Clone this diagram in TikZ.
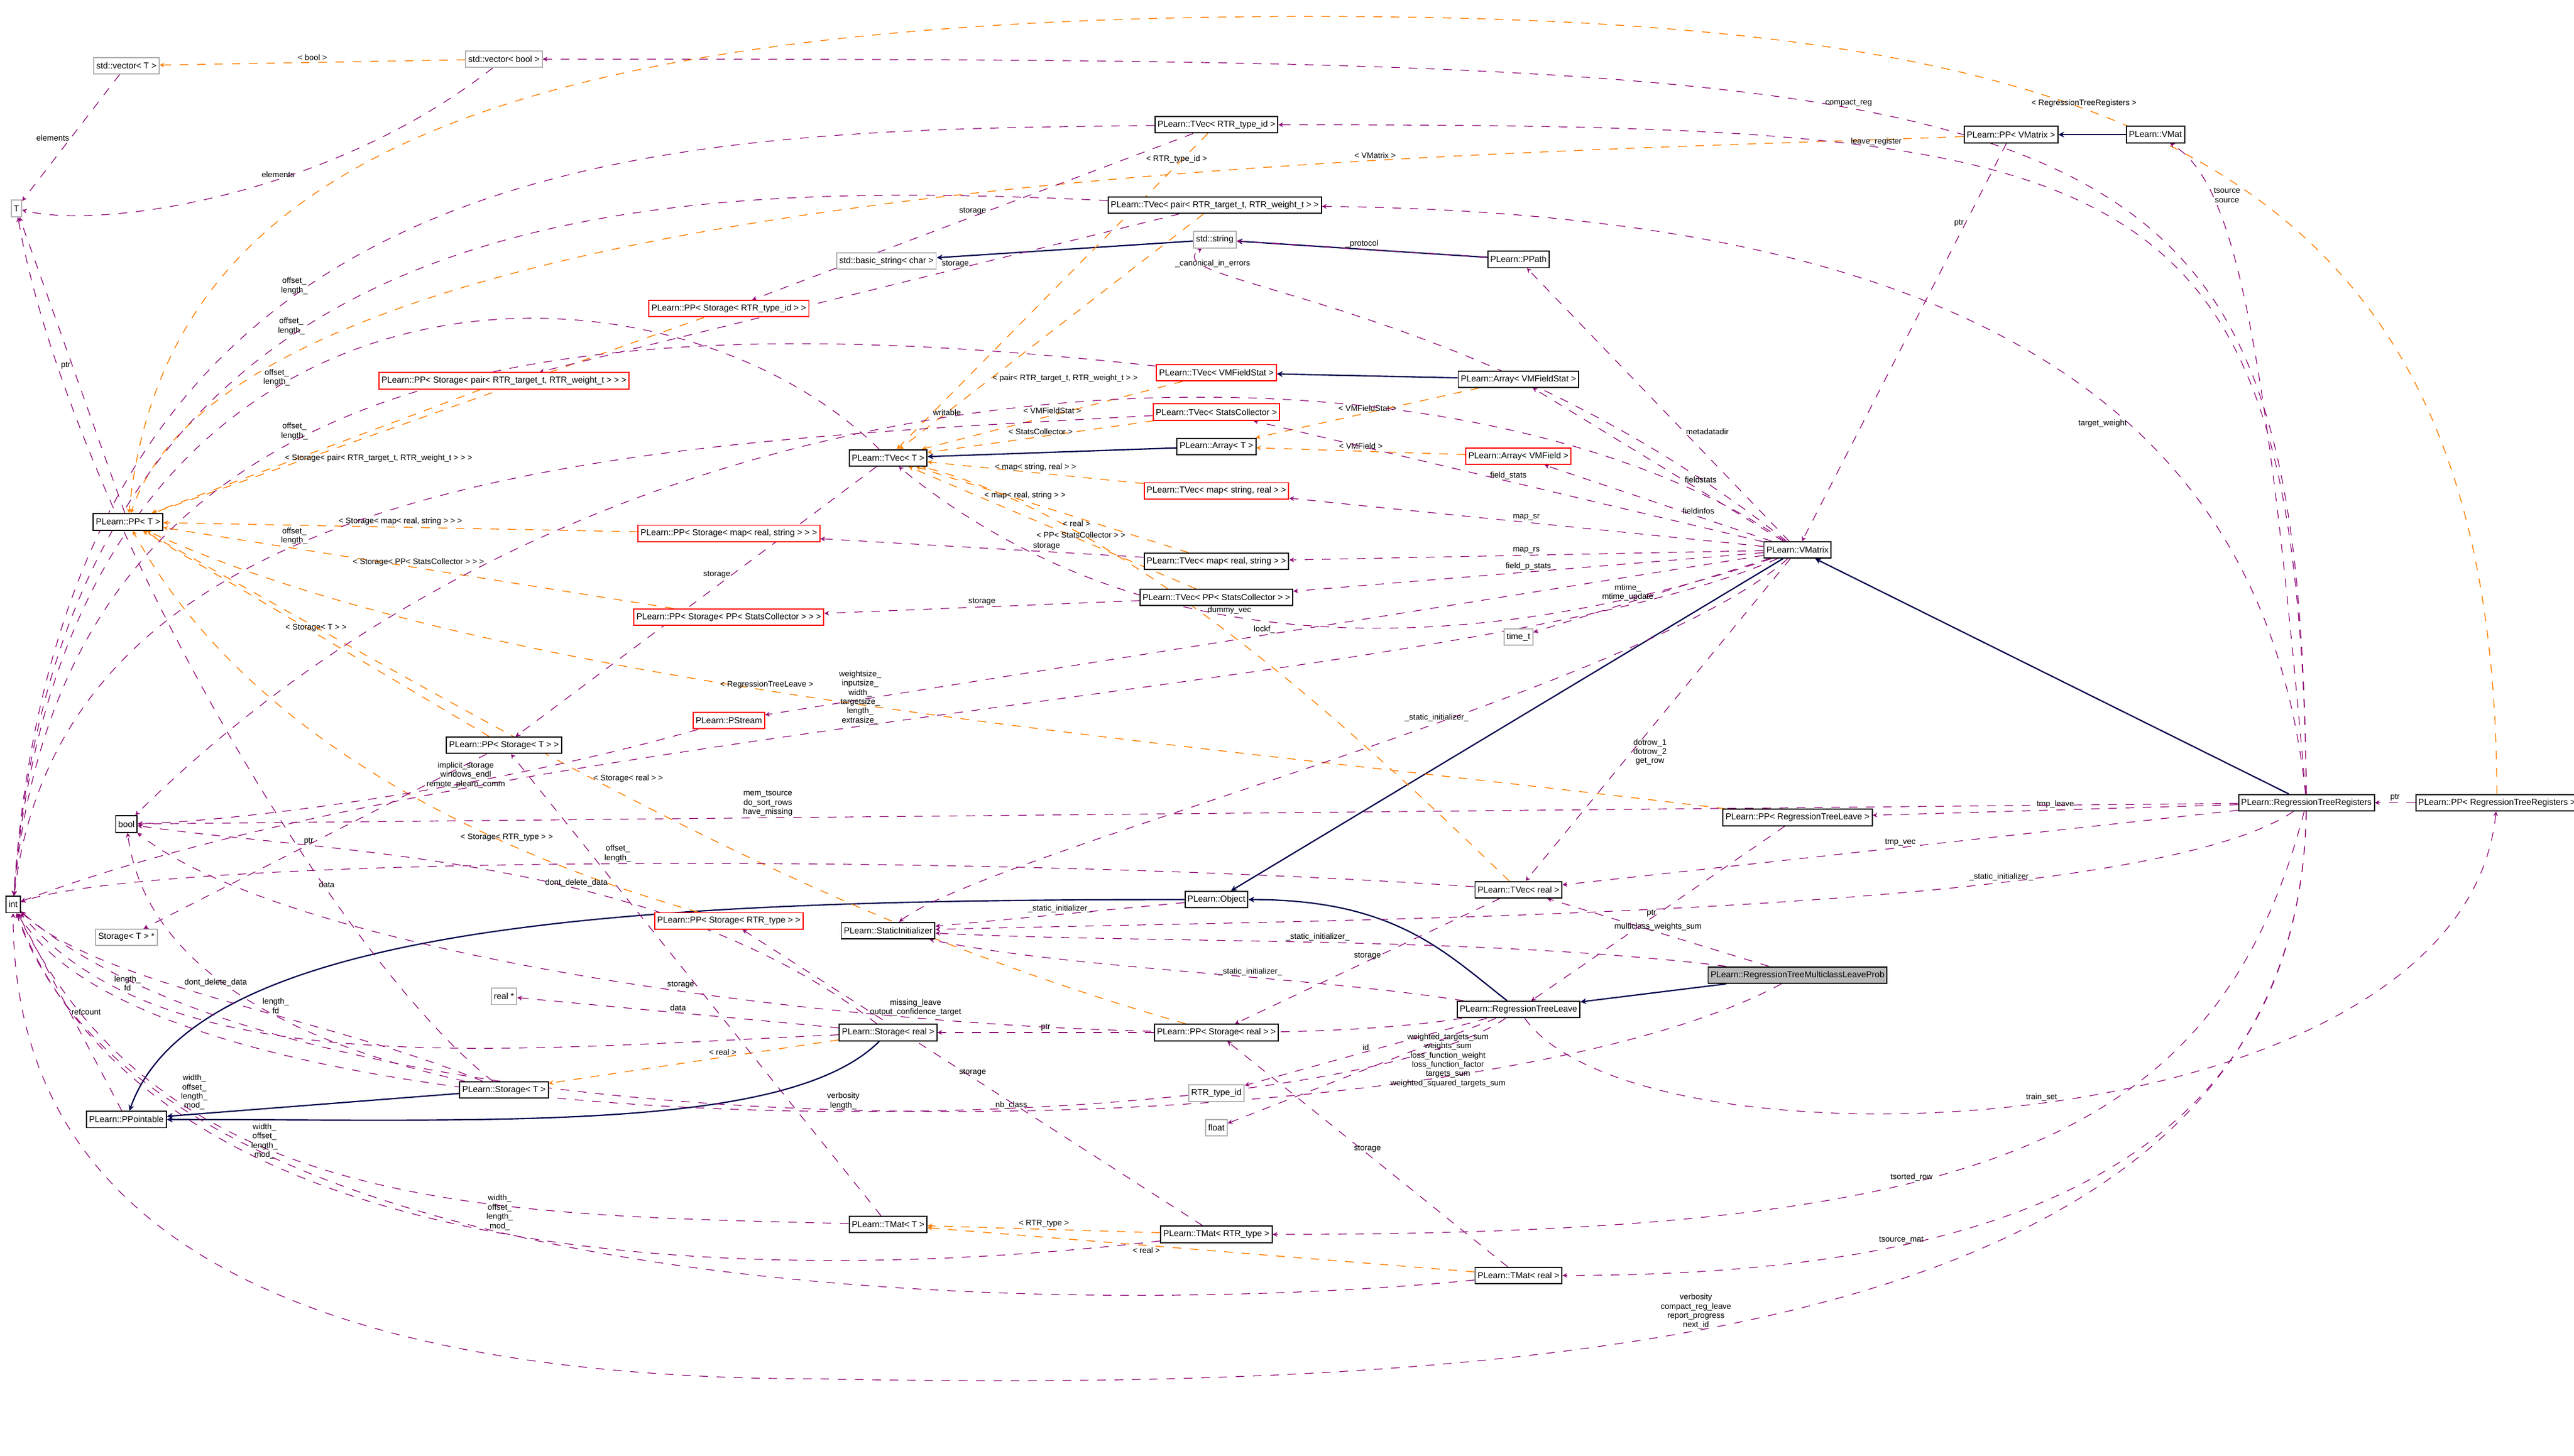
\documentclass[tikz,border=0pt]{standalone}
\usepackage{fontspec}
\setmainfont{Liberation Sans}
\usetikzlibrary{arrows.meta}
\pgfdeclarelayer{edges}
\pgfsetlayers{edges,main}
\tikzset{
 cls/.style={draw=black,fill=white,font=\fontsize{3}{3.6}\selectfont,inner sep=0.9pt,minimum height=0.2cm},
 redcls/.style={cls,draw=red},
 graycls/.style={cls,draw=gray!60},
 maincls/.style={cls,fill=gray!55},
 use/.style={draw=violet!80!purple,dashed,-{Stealth[length=1.6pt,width=1.6pt]},line width=0.25pt},
 tmpl/.style={draw=orange,dashed,-{Stealth[length=1.6pt,width=1.6pt]},line width=0.3pt},
 inh/.style={draw=blue!30!black,-{Stealth[length=2pt,width=2pt]},line width=0.45pt},
 lbl/.style={font=\fontsize{2.8}{3.2}\selectfont,align=center,inner sep=0.5pt}
}
\begin{document}
\begin{tikzpicture}[x=0.02cm,y=-0.02cm]
 \useasboundingbox (0,0) rectangle (1568,887);
 % classes
 \node[graycls] (T) at (10,127) {T};
 \node[graycls] (vecT) at (77,40) {std::vector< T >};
 \node[graycls] (vecbool) at (307,36) {std::vector< bool >};
 \node[cls] (tvecid) at (741,76) {PLearn::TVec< RTR\_type\_id >};
 \node[cls] (ppvm) at (1225,82) {PLearn::PP< VMatrix >};
 \node[cls] (vmat) at (1313,82) {PLearn::VMat};
 \node[cls] (tvecpair) at (740,125) {PLearn::TVec< pair< RTR\_target\_t, RTR\_weight\_t > >};
 \node[graycls] (bstr) at (540,159) {std::basic\_string< char >};
 \node[graycls] (str) at (740,146) {std::string};
 \node[cls] (ppath) at (925,158) {PLearn::PPath};
 \node[redcls] (ppsid) at (444,188) {PLearn::PP< Storage< RTR\_type\_id > >};
 \node[redcls] (ppspair) at (307,232) {PLearn::PP< Storage< pair< RTR\_target\_t, RTR\_weight\_t > > >};
 \node[redcls] (tvecfs) at (741,227) {PLearn::TVec< VMFieldStat >};
 \node[cls] (arrfs) at (925,231) {PLearn::Array< VMFieldStat >};
 \node[redcls] (tvecsc) at (741,251) {PLearn::TVec< StatsCollector >};
 \node[cls] (tvecT) at (541,279) {PLearn::TVec< T >};
 \node[cls] (arrT) at (741,272) {PLearn::Array< T >};
 \node[redcls] (arrvf) at (925,278) {PLearn::Array< VMField >};
 \node[redcls] (tvecmsr) at (741,299) {PLearn::TVec< map< string, real > >};
 \node[cls] (ppT) at (78,318) {PLearn::PP< T >};
 \node[redcls] (ppsmap) at (444,325) {PLearn::PP< Storage< map< real, string > > >};
 \node[cls] (vmatrix) at (1095,335) {PLearn::VMatrix};
 \node[cls] (tvecmrs) at (741,342) {PLearn::TVec< map< real, string > >};
 \node[cls] (tvecppsc) at (741,364) {PLearn::TVec< PP< StatsCollector > >};
 \node[redcls] (ppsppsc) at (444,376) {PLearn::PP< Storage< PP< StatsCollector > > >};
 \node[graycls] (timet) at (925,388) {time\_t};
 \node[redcls] (pstream) at (444,439) {PLearn::PStream};
 \node[cls] (ppsT) at (307,454) {PLearn::PP< Storage< T > >};
 \node[cls] (bool) at (77,502) {bool};
 \node[cls] (pprtl) at (1095,498) {PLearn::PP< RegressionTreeLeave >};
 \node[cls] (rtr) at (1405,489) {PLearn::RegressionTreeRegisters};
 \node[cls] (pprtr) at (1521,489) {PLearn::PP< RegressionTreeRegisters >};
 \node[cls] (tvecreal) at (925,542) {PLearn::TVec< real >};
 \node[cls] (int) at (8,551) {int};
 \node[cls] (object) at (741,548) {PLearn::Object};
 \node[redcls] (ppsrtr) at (444,561) {PLearn::PP< Storage< RTR\_type > >};
 \node[cls] (statinit) at (541,567) {PLearn::StaticInitializer};
 \node[graycls] (storTp) at (77,571) {Storage< T > *};
 \node[maincls] (mclp) at (1095,594) {PLearn::RegressionTreeMulticlassLeaveProb};
 \node[graycls] (realp) at (307,607) {real *};
 \node[cls] (rtl) at (925,615) {PLearn::RegressionTreeLeave};
 \node[cls] (storreal) at (541,629) {PLearn::Storage< real >};
 \node[cls] (ppsreal) at (741,629) {PLearn::PP< Storage< real > >};
 \node[cls] (storT) at (307,664) {PLearn::Storage< T >};
 \node[graycls] (rtrid) at (741,666) {RTR\_type\_id};
 \node[cls] (pptable) at (77,682) {PLearn::PPointable};
 \node[graycls] (float) at (741,687) {float};
 \node[cls] (tmatT) at (541,746) {PLearn::TMat< T >};
 \node[cls] (tmatrtr) at (741,752) {PLearn::TMat< RTR\_type >};
 \node[cls] (tmatreal) at (925,777) {PLearn::TMat< real >};
 \begin{pgfonlayer}{edges}
 % inheritance
 \draw[inh] (vmat) -- (ppvm);
 \draw[inh] (str) -- (bstr);
 \draw[inh] (ppath) -- (str);
 \draw[inh] (arrfs) -- (tvecfs);
 \draw[inh] (arrT) -- (tvecT);
 \draw[inh] (vmatrix) -- (object);
 \draw[inh] (rtr) -- (vmatrix);
 \draw[inh] (object.west) .. controls (400,548) and (120,560) .. (pptable);
 \draw[inh] (rtl) .. controls (880,580) and (850,548) .. (object);
 \draw[inh] (mclp) -- (rtl);
 \draw[inh] (storreal) .. controls (480,690) and (300,682) .. (pptable);
 \draw[inh] (storT) -- (pptable);
 % templates
 \draw[tmpl] (vecbool) -- node[lbl,above]{< bool >} (vecT);
 \draw[tmpl] (tvecid) -- node[lbl,pos=0.1,above]{< RTR\_type\_id >} (tvecT);
 \draw[tmpl] (tvecpair) -- node[lbl,pos=0.7,right]{< pair< RTR\_target\_t, RTR\_weight\_t > >} (tvecT);
 \draw[tmpl] (ppvm) .. controls (900,95) and (150,100) .. node[lbl,pos=0.3,above]{< VMatrix >} (ppT);
 \draw[tmpl] (ppsid) -- node[lbl,pos=0.35,above]{< Storage< RTR\_type\_id > >} (ppT);
 \draw[tmpl] (ppspair) -- node[lbl,pos=0.6,above right]{< Storage< pair< RTR\_target\_t, RTR\_weight\_t > > >} (ppT);
 \draw[tmpl] (tvecfs) -- node[lbl,above]{< VMFieldStat >} (tvecT);
 \draw[tmpl] (arrfs) -- node[lbl,above]{< VMFieldStat >} (arrT);
 \draw[tmpl] (tvecsc) -- node[lbl,above]{< StatsCollector >} (tvecT);
 \draw[tmpl] (arrvf) -- node[lbl,above]{< VMField >} (arrT);
 \draw[tmpl] (tvecmsr) -- node[lbl,above]{< map< string, real > >} (tvecT);
 \draw[tmpl] (ppsmap) -- node[lbl,above]{< Storage< map< real, string > > >} (ppT);
 \draw[tmpl] (tvecmrs) -- node[lbl,pos=0.6,above]{< map< real, string > >} (tvecT);
 \draw[tmpl] (tvecppsc) -- node[lbl,pos=0.4,above]{< PP< StatsCollector > >} (tvecT);
 \draw[tmpl] (ppsppsc) -- node[lbl,above]{< Storage< PP< StatsCollector > > >} (ppT);
 \draw[tmpl] (tvecreal) .. controls (860,480) and (700,320) .. node[lbl,pos=0.8,right]{< real >} (tvecT);
 \draw[tmpl] (ppsT) -- node[lbl,above]{< Storage< T > >} (ppT);
 \draw[tmpl] (pprtl) .. controls (700,450) and (300,420) .. node[lbl,pos=0.55,above]{< RegressionTreeLeave >} (ppT);
 \draw[tmpl] (pprtr) .. controls (1520,100) and (1300,10) .. node[lbl,pos=0.6,above]{< RegressionTreeRegisters >} (800,10) .. controls (300,10) and (100,100) .. (ppT);
 \draw[tmpl] (ppsrtr) .. controls (300,520) and (150,450) .. node[lbl,pos=0.3,above]{< Storage< RTR\_type > >} (ppT);
 \draw[tmpl] (ppsreal) .. controls (500,560) and (350,470) .. node[lbl,pos=0.6,right]{< Storage< real > >} (ppT);
 \draw[tmpl] (storreal) -- node[lbl,pos=0.4,above]{< real >} (storT);
 \draw[tmpl] (tmatrtr) -- node[lbl,above]{< RTR\_type >} (tmatT);
 \draw[tmpl] (tmatreal) -- node[lbl,pos=0.6,below]{< real >} (tmatT);
 % usage
 \draw[use] (rtr) .. controls (1400,40) and (1300,36) .. node[lbl,pos=0.6,above]{compact\_reg} (vecbool);
 \draw[use] (rtr) .. controls (1400,90) and (1300,76) .. node[lbl,pos=0.7,above]{leave\_register} (tvecid);
 \draw[use] (rtr) .. controls (1380,200) and (1360,110) .. node[lbl,pos=0.75,right]{tsource\\source} (vmat);
 \draw[use] (rtr) .. controls (1380,250) and (1200,130) .. node[lbl,pos=0.4,left]{target\_weight} (tvecpair);
 \draw[use] (rtr) -- node[lbl,above]{tmp\_leave} (pprtl);
 \draw[use] (rtr) -- node[lbl,above]{tmp\_vec} (tvecreal);
 \draw[use] (rtr) .. controls (1350,700) and (1200,752) .. node[lbl,pos=0.6,above]{tsorted\_row} (tmatrtr);
 \draw[use] (rtr) .. controls (1400,720) and (1200,777) .. node[lbl,pos=0.7,above]{tsource\_mat} (tmatreal);
 \draw[use] (rtr) .. controls (1400,800) and (1000,850) .. node[lbl,pos=0.6,above]{verbosity\\compact\_reg\_leave\\report\_progress\\next\_id} (500,840) .. controls (100,840) and (8,700) .. (int);
 \draw[use] (rtr) -- node[lbl,pos=0.7,above]{mem\_tsource\\do\_sort\_rows\\have\_missing} (bool);
 \draw[use] (rtr) .. controls (1300,560) and (800,560) .. node[lbl,pos=0.3,above]{\_static\_initializer\_} (statinit);
 \draw[use] (pprtr) -- node[lbl,above]{ptr} (rtr);
 \draw[use] (ppvm) -- node[lbl,pos=0.2,left]{ptr} (vmatrix);
 \draw[use] (vmatrix) -- node[lbl,pos=0.4,right]{metadatadir} (ppath);
 \draw[use] (ppath) -- node[lbl,above]{\_protocol} (str);
 \draw[use] (vmatrix) .. controls (900,180) and (700,173) .. node[lbl,pos=0.8,above]{\_canonical\_in\_errors} (str);
 \draw[use] (vmatrix) -- node[lbl,pos=0.4,right]{fieldstats} (arrfs);
 \draw[use] (vmatrix) -- node[lbl,pos=0.5,above]{field\_stats} (tvecsc);
 \draw[use] (vmatrix) -- node[lbl,pos=0.4,right]{fieldinfos} (arrvf);
 \draw[use] (vmatrix) -- node[lbl,pos=0.5,above]{map\_sr} (tvecmsr);
 \draw[use] (vmatrix) -- node[lbl,pos=0.5,above]{map\_rs} (tvecmrs);
 \draw[use] (vmatrix) -- node[lbl,pos=0.5,above]{field\_p\_stats} (tvecppsc);
 \draw[use] (vmatrix) -- node[lbl,pos=0.6,above]{mtime\_\\mtime\_update} (timet);
 \draw[use] (vmatrix) -- node[lbl,pos=0.5,above]{lockf\_} (pstream);
 \draw[use] (vmatrix) .. controls (900,420) and (300,440) .. node[lbl,pos=0.55,above]{weightsize\_\\inputsize\_\\width\_\\targetsize\_\\length\_\\extrasize\_} (int);
 \draw[use] (vmatrix) .. controls (900,200) and (400,183) .. node[lbl,pos=0.55,above]{writable} (bool);
 \draw[use] (vmatrix) .. controls (1000,420) and (600,520) .. node[lbl,pos=0.4,above]{\_static\_initializer\_} (statinit);
 \draw[use] (vmatrix) -- node[lbl,pos=0.6,right]{dotrow\_1\\dotrow\_2\\get\_row} (tvecreal);
 \draw[use] (vmatrix) .. controls (900,400) and (700,409) .. node[lbl,pos=0.6,above]{dummy\_vec} (tvecT);
 \draw[use] (tvecid) -- node[lbl,pos=0.5,above]{storage} (ppsid);
 \draw[use] (tvecid) .. controls (400,80) and (40,80) .. node[lbl,pos=0.6,above]{offset\_\\length\_} (int);
 \draw[use] (tvecpair) .. controls (400,110) and (40,110) .. node[lbl,pos=0.6,above]{offset\_\\length\_} (int);
 \draw[use] (tvecpair) -- node[lbl,pos=0.35,above]{storage} (ppspair);
 \draw[use] (tvecT) .. controls (400,140) and (40,140) .. node[lbl,pos=0.6,above]{offset\_\\length\_} (int);
 \draw[use] (tvecT) -- node[lbl,pos=0.4,left]{storage} (ppsT);
 \draw[use] (tvecfs) .. controls (400,190) and (40,190) .. node[lbl,pos=0.6,above]{offset\_\\length\_} (int);
 \draw[use] (tvecsc) .. controls (400,270) and (40,280) .. node[lbl,pos=0.6,above]{offset\_\\length\_} (int);
 \draw[use] (tvecmrs) -- node[lbl,pos=0.3,above]{storage} (ppsmap);
 \draw[use] (tvecppsc) -- node[lbl,pos=0.5,above]{storage} (ppsppsc);
 \draw[use] (tvecreal) .. controls (600,520) and (100,520) .. node[lbl,pos=0.5,above]{offset\_\\length\_} (int);
 \draw[use] (tvecreal) -- node[lbl,pos=0.5,above]{storage} (ppsreal);
 \draw[use] (ppT) -- node[lbl,pos=0.5,left]{ptr} (T);
 \draw[use] (vecT) -- node[lbl,pos=0.5,left]{elements} (T);
 \draw[use] (vecbool) .. controls (200,120) and (60,140) .. node[lbl,pos=0.4,above]{elements} (T);
 \draw[use] (ppsT) -- node[lbl,pos=0.5,left]{ptr} (storTp);
 \draw[use] (ppsreal) -- node[lbl,pos=0.5,above]{ptr} (storreal);
 \draw[use] (storT) .. controls (200,620) and (60,600) .. node[lbl,pos=0.4,above]{length\_\\fd} (int);
 \draw[use] (storT) .. controls (200,640) and (90,600) .. node[lbl,pos=0.6,below]{dont\_delete\_data} (bool);
 \draw[use] (storT) .. controls (200,580) and (40,300) .. node[lbl,pos=0.3,above]{data} (T);
 \draw[use] (storreal) .. controls (300,640) and (100,660) .. node[lbl,pos=0.8,above]{length\_\\fd} (int);
 \draw[use] (storreal) .. controls (400,520) and (200,520) .. node[lbl,pos=0.4,above]{dont\_delete\_data} (bool);
 \draw[use] (storreal) -- node[lbl,pos=0.5,above]{data} (realp);
 \draw[use] (pptable) -- node[lbl,pos=0.5,right]{refcount} (int);
 \draw[use] (pstream) .. controls (300,480) and (150,500) .. node[lbl,pos=0.3,left]{implicit\_storage\\windows\_endl\\remote\_plearn\_comm} (bool);
 \draw[use] (rtl) .. controls (800,700) and (100,710) .. node[lbl,pos=0.45,above]{verbosity\\length\_} (int);
 \draw[use] (mclp) .. controls (900,700) and (200,720) .. node[lbl,pos=0.45,above]{nb\_class} (int);
 \draw[use] (rtl) -- node[lbl,pos=0.4,right]{weighted\_targets\_sum\\weights\_sum\\loss\_function\_weight\\loss\_function\_factor\\targets\_sum\\weighted\_squared\_targets\_sum} (float);
 \draw[use] (rtl) -- node[lbl,pos=0.5,above]{id} (rtrid);
 \draw[use] (rtl) .. controls (700,650) and (200,600) .. node[lbl,pos=0.4,above]{missing\_leave\\output\_confidence\_target} (bool);
 \draw[use] (rtl) .. controls (800,595) and (650,590) .. node[lbl,pos=0.4,above]{\_static\_initializer\_} (statinit);
 \draw[use] (rtl) .. controls (1000,720) and (1500,700) .. node[lbl,pos=0.5,above]{train\_set} (pprtr);
 \draw[use] (mclp) -- node[lbl,pos=0.5,above]{multiclass\_weights\_sum} (tvecreal);
 \draw[use] (mclp) .. controls (900,570) and (700,575) .. node[lbl,pos=0.5,above]{\_static\_initializer\_} (statinit);
 \draw[use] (pprtl) -- node[lbl,pos=0.5,left]{ptr} (rtl);
 \draw[use] (object) -- node[lbl,pos=0.5,above]{\_static\_initializer\_} (statinit);
 \draw[use] (tmatT) .. controls (300,740) and (100,740) .. node[lbl,pos=0.7,above]{width\_\\offset\_\\length\_\\mod\_} (int);
 \draw[use] (tmatT) -- node[lbl,pos=0.5,left]{storage} (ppsT);
 \draw[use] (tmatrtr) .. controls (500,780) and (100,790) .. node[lbl,pos=0.7,above]{width\_\\offset\_\\length\_\\mod\_} (int);
 \draw[use] (tmatrtr) -- node[lbl,pos=0.5,above]{storage} (ppsrtr);
 \draw[use] (tmatreal) .. controls (700,800) and (100,810) .. node[lbl,pos=0.6,above]{width\_\\offset\_\\length\_\\mod\_} (int);
 \draw[use] (tmatreal) -- node[lbl,pos=0.5,above]{storage} (ppsreal);
 \end{pgfonlayer}
\end{tikzpicture}
\end{document}
